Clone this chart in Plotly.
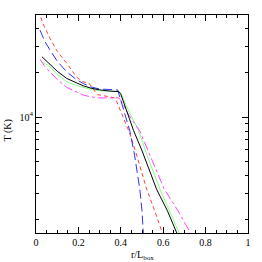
import plotly.graph_objects as go

# ---- data ----
black_x = [0.028, 0.05, 0.066, 0.10, 0.145, 0.19, 0.223, 0.26, 0.30, 0.35, 0.39, 0.40, 0.42, 0.44, 0.46, 0.50, 0.569, 0.62, 0.664, 0.68]
black_y = [25700, 24000, 22900, 20500, 18300, 17000, 16300, 15700, 15300, 15000, 14900, 14300, 12000, 9800, 8100, 5900, 3220, 2300, 1626, 1450]

green_x = [0.028, 0.05, 0.066, 0.10, 0.145, 0.19, 0.223, 0.26, 0.30, 0.35, 0.39, 0.40, 0.42, 0.44, 0.483, 0.53, 0.585, 0.63, 0.676, 0.69]
green_y = [23800, 22800, 22000, 19500, 17400, 16400, 15900, 15400, 15100, 14900, 14900, 14600, 12600, 10800, 8160, 5200, 3230, 2300, 1626, 1450]

red_x = [0.015, 0.03, 0.066, 0.10, 0.145, 0.19, 0.22, 0.25, 0.27, 0.29, 0.35, 0.37, 0.38, 0.40, 0.42, 0.44, 0.47, 0.52, 0.56, 0.594, 0.61]
red_y = [53000, 44000, 34300, 28000, 23200, 18800, 17400, 17000, 15500, 14200, 13700, 13500, 12800, 10800, 9200, 7900, 5800, 3300, 2300, 1626, 1420]

blue_x = [0.019, 0.04, 0.066, 0.10, 0.145, 0.19, 0.223, 0.26, 0.30, 0.35, 0.385, 0.40, 0.42, 0.443, 0.465, 0.49, 0.50, 0.506, 0.51]
blue_y = [39000, 33000, 28600, 24000, 20300, 18000, 16900, 16000, 15500, 15300, 15300, 13000, 10500, 8000, 5500, 3200, 2300, 1626, 1300]

magenta_x = [0.019, 0.04, 0.066, 0.10, 0.145, 0.19, 0.223, 0.26, 0.30, 0.35, 0.39, 0.40, 0.42, 0.44, 0.49, 0.55, 0.605, 0.67, 0.728, 0.74]
magenta_y = [24700, 22300, 20300, 18000, 15900, 14800, 14100, 13700, 13500, 13500, 13500, 13000, 11500, 10200, 8000, 5000, 3230, 2300, 1626, 1520]

x_tick_vals = [0, 0.2, 0.4, 0.6, 0.8, 1]
x_tick_text = ["0", "0.2", "0.4", "0.6", "0.8", "1"]
x_minor_vals = [0.05, 0.1, 0.15, 0.25, 0.3, 0.35, 0.45, 0.5, 0.55, 0.65, 0.7, 0.75, 0.85, 0.9, 0.95]
y_tick_vals = [10000]
y_tick_text = ["10<sup>4</sup>"]
y_minor_vals = [2000, 3000, 4000, 5000, 6000, 7000, 8000, 9000, 20000, 30000, 40000]

fig = go.Figure()
series = [
    (green_x, green_y, "#88ff88", "solid"),
    (magenta_x, magenta_y, "#ff44ff", "dashdot"),
    (red_x, red_y, "#ff4040", "4px,3px"),
    (blue_x, blue_y, "#3030ff", "9px,4px"),
    (black_x, black_y, "#000000", "solid"),
]
for xs, ys, col, dash in series:
    fig.add_trace(go.Scatter(x=xs, y=ys, mode="lines", line=dict(color=col, width=1, dash=dash),
                             showlegend=False, hoverinfo="skip"))

font = dict(family="Liberation Serif, Times New Roman, serif", size=10, color="black")
fig.update_layout(
    width=262, height=262,
    margin=dict(l=36, r=14, t=15, b=29, autoexpand=False),
    paper_bgcolor="white", plot_bgcolor="white",
    font=font,
    xaxis=dict(range=[0, 1], tickmode="array", tickvals=x_tick_vals, ticktext=x_tick_text,
               ticks="inside", ticklen=6, tickcolor="black", tickwidth=1, automargin=False,
               minor=dict(tickmode="array", tickvals=x_minor_vals, ticks="inside", ticklen=3, tickcolor="black", showgrid=False),
               showline=True, linecolor="black", linewidth=1, mirror="ticks", showgrid=False, zeroline=False),
    yaxis=dict(type="log", range=[3.211, 4.694], tickmode="array", tickvals=y_tick_vals, ticktext=y_tick_text,
               ticks="inside", ticklen=6, tickcolor="black", tickwidth=1, automargin=False,
               minor=dict(tickmode="array", tickvals=y_minor_vals, ticks="inside", ticklen=3, tickcolor="black", showgrid=False),
               showline=True, linecolor="black", linewidth=1, mirror="ticks", showgrid=False, zeroline=False),
    annotations=[
        dict(text="r/L<sub>box</sub>", xref="paper", yref="paper", x=0.5, y=0, yshift=-14,
             xanchor="center", yanchor="top", showarrow=False, font=font),
        dict(text="T (K)", xref="paper", yref="paper", x=0, y=0.47, xshift=-28,
             xanchor="center", yanchor="middle", textangle=-90, showarrow=False, font=font),
    ],
)
fig.write_html("out.html", config={"displayModeBar": False},
               post_script="document.body.style.margin='0';document.body.style.padding='0';")
